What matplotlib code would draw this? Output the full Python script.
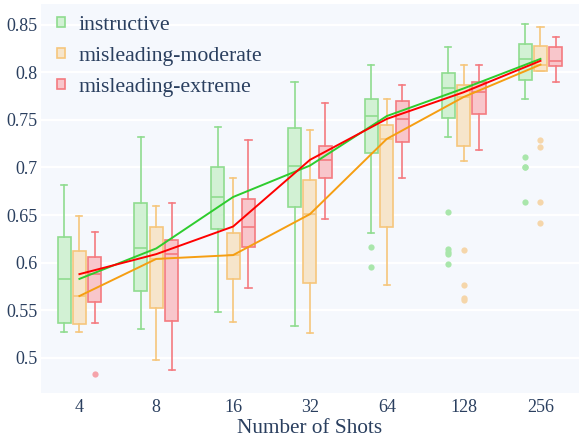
import numpy as np
import matplotlib
matplotlib.use('Agg')
import matplotlib.pyplot as plt
from matplotlib.patches import Patch

# box stats (accuracy vs number of shots)
shots = ['4', '8', '16', '32', '64', '128', '256']
series = ['instructive', 'misleading-moderate', 'misleading-extreme']

instructive_lo = [0.527, 0.530, 0.548, 0.534, 0.631, 0.732, 0.772]
instructive_q1 = [0.537, 0.570, 0.635, 0.658, 0.715, 0.752, 0.792]
instructive_med = [0.583, 0.615, 0.669, 0.702, 0.754, 0.783, 0.814]
instructive_q3 = [0.627, 0.663, 0.701, 0.741, 0.772, 0.799, 0.830]
instructive_hi = [0.682, 0.732, 0.743, 0.790, 0.808, 0.826, 0.851]
instructive_out = [[], [], [], [], [0.617, 0.595],
                   [0.653, 0.614, 0.611, 0.609, 0.599],
                   [0.711, 0.700, 0.700, 0.664]]

moderate_lo = [0.527, 0.498, 0.538, 0.526, 0.577, 0.707, 0.801]
moderate_q1 = [0.536, 0.552, 0.583, 0.579, 0.637, 0.723, 0.801]
moderate_med = [0.565, 0.604, 0.608, 0.651, 0.730, 0.774, 0.808]
moderate_q3 = [0.612, 0.637, 0.631, 0.687, 0.745, 0.787, 0.828]
moderate_hi = [0.649, 0.660, 0.689, 0.739, 0.772, 0.808, 0.848]
moderate_out = [[], [], [], [], [],
                [0.613, 0.577, 0.563, 0.561],
                [0.729, 0.722, 0.664, 0.642]]

extreme_lo = [0.537, 0.487, 0.573, 0.646, 0.689, 0.718, 0.790]
extreme_q1 = [0.559, 0.539, 0.617, 0.689, 0.727, 0.756, 0.807]
extreme_med = [0.588, 0.609, 0.638, 0.708, 0.751, 0.779, 0.812]
extreme_q3 = [0.606, 0.624, 0.667, 0.723, 0.770, 0.790, 0.826]
extreme_hi = [0.632, 0.663, 0.729, 0.768, 0.787, 0.808, 0.837]
extreme_out = [[0.483], [], [], [], [], [], []]

stats_all = [
    (instructive_lo, instructive_q1, instructive_med, instructive_q3, instructive_hi, instructive_out),
    (moderate_lo, moderate_q1, moderate_med, moderate_q3, moderate_hi, moderate_out),
    (extreme_lo, extreme_q1, extreme_med, extreme_q3, extreme_hi, extreme_out),
]

edge_cols = ['#8fdc8f', '#f6c67c', '#f47a80']
fill_cols = ['#d2f1d4', '#f6e5cb', '#f8c6cb']
flier_cols = ['#a9e6ab', '#f5d6aa', '#f5a3aa']
line_cols = ['#2ecc2e', '#f59e12', '#ff0000']
text_col = '#2a3f5f'

plt.rcParams['font.family'] = ['Liberation Serif', 'DejaVu Serif']

fig = plt.figure(figsize=(5.79, 4.41), dpi=100)
ax = fig.add_axes([0.0708, 0.108, 0.929, 0.883])
ax.set_facecolor('#f5f8fd')

x = np.arange(len(shots))
offsets = [-0.2, 0.0, 0.2]

for i, (lo, q1, med, q3, hi, out) in enumerate(stats_all):
    st = []
    for j in range(len(shots)):
        st.append({'whislo': lo[j], 'q1': q1[j], 'med': med[j],
                   'q3': q3[j], 'whishi': hi[j], 'fliers': out[j]})
    ax.bxp(st, positions=x + offsets[i], widths=0.17, capwidths=0.08,
           patch_artist=True, showfliers=True, manage_ticks=False,
           boxprops=dict(facecolor=fill_cols[i], edgecolor=edge_cols[i], linewidth=1.2),
           medianprops=dict(color=edge_cols[i], linewidth=1.2),
           whiskerprops=dict(color=edge_cols[i], linewidth=1.2),
           capprops=dict(color=edge_cols[i], linewidth=1.2),
           flierprops=dict(marker='o', markersize=4.5, markerfacecolor=flier_cols[i],
                           markeredgecolor='none'))

for i, (lo, q1, med, q3, hi, out) in enumerate(stats_all):
    ax.plot(x, med, color=line_cols[i], linewidth=1.4, zorder=5)

ax.set_xlim(-0.5, 6.5)
ax.set_ylim(0.4628, 0.8717)
ax.set_xticks(x)
ax.set_xticklabels(shots)
yt = [0.5, 0.55, 0.6, 0.65, 0.7, 0.75, 0.8, 0.85]
ax.set_yticks(yt)
ax.set_yticklabels(['0.5', '0.55', '0.6', '0.65', '0.7', '0.75', '0.8', '0.85'])
ax.tick_params(axis='both', length=0, labelsize=13, colors=text_col)
ax.tick_params(axis='x', pad=4)
ax.tick_params(axis='y', pad=2.5)
ax.grid(axis='y', color='white', linewidth=1.6)
ax.set_axisbelow(True)
for s in ax.spines.values():
    s.set_visible(False)

ax.set_xlabel('Number of Shots', fontsize=15.3, color=text_col, labelpad=2)

handles = [Patch(facecolor=fill_cols[i], edgecolor=edge_cols[i], linewidth=1.2) for i in range(3)]
leg = ax.legend(handles, series, loc='upper left', bbox_to_anchor=(0.008, 1.0),
                frameon=False, fontsize=15.7, handlelength=0.36, handleheight=0.36,
                handletextpad=0.6, labelspacing=0.55, borderaxespad=0.15)
for t in leg.get_texts():
    t.set_color(text_col)

fig.savefig('out.png', dpi=100)
